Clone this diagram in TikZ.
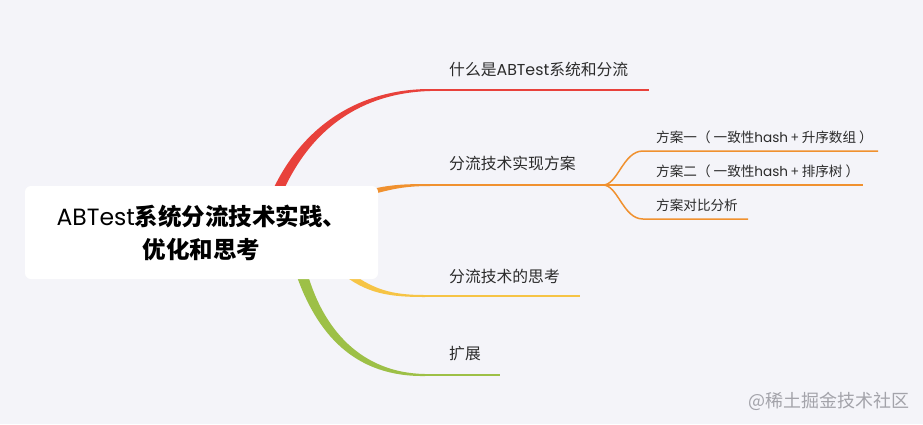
\documentclass[tikz,border=0pt]{standalone}
\usepackage{fontspec}
\newfontfamily\cjk{Noto Sans CJK SC}
\newfontfamily\lat{Poppins}
\definecolor{bg}{HTML}{F4F4F9}
\definecolor{redbr}{HTML}{E8413B}
\definecolor{orangebr}{HTML}{F0912F}
\definecolor{yellowbr}{HTML}{F6C445}
\definecolor{greenbr}{HTML}{9DC047}
\definecolor{txt}{HTML}{2B2B2B}
\definecolor{wmark}{HTML}{A3A3AA}
\usetikzlibrary{positioning}
\tikzset{
  rootbox/.style={fill=white,rounded corners=6pt,minimum width=353pt,minimum height=93pt,
    align=center,text=black,font=\cjk\fontsize{23.5}{33}\selectfont},
  lbl/.style={anchor=west,inner sep=0pt,text=txt,font=\cjk\fontsize{15.8}{18}\selectfont},
  sublbl/.style={anchor=west,inner sep=0pt,text=txt,font=\cjk\fontsize{13.6}{16}\selectfont},
  brline/.style={line width=2pt},
  subline/.style={orangebr,line width=1.5pt}
}

\begin{document}
\begin{tikzpicture}[x=1pt,y=-1pt]
\useasboundingbox (0,0) rectangle (923,424);
\fill[bg] (0,0) rectangle (923,424);
\coordinate (r0) at (430,90); \coordinate (r1) at (649,90);
\coordinate (o0) at (430,185); \coordinate (ob) at (603,185);
\coordinate (y0) at (425,296); \coordinate (y1) at (580,296);
\coordinate (g0) at (425,375); \coordinate (g1) at (500,375);
\fill[redbr] (270,196) .. controls (301,125) and (360,89) .. (430,89) -- (430,91)
  .. controls (362,93) and (310,128) .. (281,196) -- cycle;
\fill[orangebr] (368,190) .. controls (390,184.5) and (405,184) .. (430,184) -- (430,186)
  .. controls (405,186) and (392,189) .. (370,195) -- cycle;
\fill[yellowbr] (345,268) .. controls (372,290) and (392,295) .. (425,295) -- (425,297)
  .. controls (390,297) and (366,294) .. (340,272) -- cycle;
\fill[greenbr] (294,268) .. controls (316,336) and (356,377) .. (425,376) -- (425,374)
  .. controls (362,373) and (322,330) .. (306,268) -- cycle;
\draw[brline,redbr] (r0) -- (r1);
\draw[brline,orangebr] (o0) -- (ob);
\draw[brline,yellowbr] (y0) -- (y1);
\draw[brline,greenbr] (g0) -- (g1);
\node[lbl] (n1) at (449,69) {什么是{\lat ABTest}系统和分流};
\node[lbl] (n2) at (449,163) {分流技术实现方案};
\node[lbl] (n3) at (449,276) {分流技术的思考};
\node[lbl] (n4) at (449,354) {扩展};
\foreach \n/\ya/\xe/\t in {1/151/878/{方案一（ 一致性{\lat hash} + 升序数组 ）},
    2/185/863/{方案二（ 一致性{\lat hash} + 排序树 ）},3/219/748/{方案对比分析}}{
  \coordinate (s\n a) at (643,\ya);
  \coordinate (s\n b) at (\xe,\ya);
  \draw[subline] (ob) .. controls +(15,0) and +(-20,0) .. (s\n a) -- (s\n b);
  \node[sublbl] (t\n) at (656,\ya-14) {\t};
}
\node[rootbox] (root) at (201.5,232.5) {{\lat ABTest}\textbf{系统分流技术实践、}\\\textbf{优化和思考}};
\node[anchor=west,inner sep=0pt,text=wmark,font=\cjk\fontsize{18}{20}\selectfont] (wm) at (748,401) {@稀土掘金技术社区};
\end{tikzpicture}
\end{document}
